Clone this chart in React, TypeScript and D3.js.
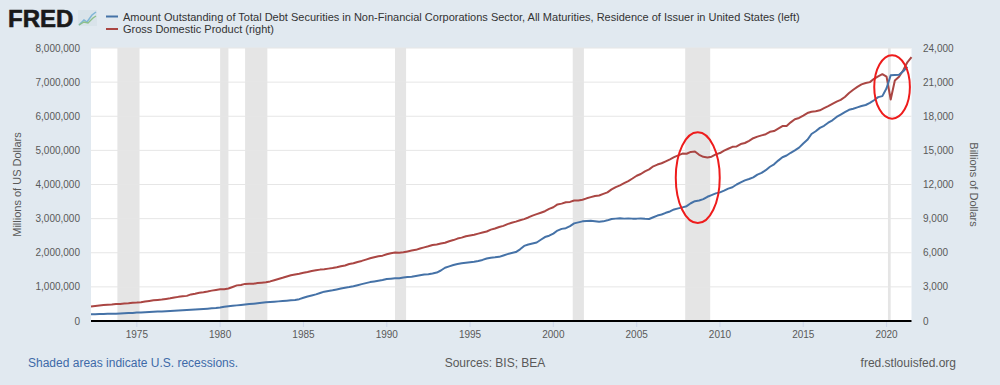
import React from "react";
import * as d3 from "d3";

// ---------- DATA ----------
const debtStart = "1972-04-01"; // quarterly, first observation
const gdpStart = "1972-04-01";

// Amount outstanding of total debt securities, non-financial corporations (millions of US$), quarterly 1972Q2–2021Q2
const debtValues = [
  197000, 200000, 203000,
  206000, 209000, 212000, 216000,
  220000, 226000, 232000, 238000,
  246000, 252000, 258000, 264000,
  270000, 276000, 282000, 288000,
  294000, 301000, 308000, 315000,
  322000, 330000, 338000, 346000,
  354000, 362000, 372000, 382000,
  395000, 415000, 432000, 445000,
  458000, 472000, 484000, 495000,
  507000, 520000, 535000, 548000,
  556000, 565000, 575000, 585000,
  595000, 605000, 615000, 640000,
  680000, 720000, 750000, 780000,
  820000, 860000, 880000, 900000,
  925000, 950000, 975000, 995000,
  1020000, 1050000, 1080000, 1110000,
  1140000, 1160000, 1180000, 1200000,
  1230000, 1240000, 1250000, 1255000,
  1275000, 1290000, 1300000, 1320000,
  1340000, 1360000, 1370000, 1390000,
  1420000, 1480000, 1560000, 1600000,
  1640000, 1670000, 1690000, 1705000,
  1720000, 1735000, 1760000, 1790000,
  1830000, 1855000, 1865000, 1880000,
  1920000, 1960000, 1995000, 2020000,
  2100000, 2200000, 2240000, 2270000,
  2300000, 2380000, 2460000, 2500000,
  2560000, 2650000, 2700000, 2720000,
  2780000, 2860000, 2890000, 2920000,
  2930000, 2935000, 2925000, 2910000,
  2920000, 2950000, 2990000, 3000000,
  3010000, 3000000, 3005000, 3000000,
  3000000, 3005000, 2995000, 2990000,
  3040000, 3090000, 3120000, 3170000,
  3210000, 3270000, 3300000, 3330000,
  3365000, 3450000, 3510000, 3530000,
  3570000, 3640000, 3690000, 3740000,
  3770000, 3820000, 3880000, 3920000,
  4000000, 4060000, 4120000, 4160000,
  4210000, 4290000, 4340000, 4420000,
  4520000, 4590000, 4700000, 4800000,
  4850000, 4930000, 5000000, 5080000,
  5200000, 5310000, 5480000, 5560000,
  5660000, 5720000, 5810000, 5880000,
  5980000, 6050000, 6120000, 6190000,
  6220000, 6260000, 6300000, 6330000,
  6390000, 6470000, 6560000, 6590000,
  6820000, 7200000, 7210000, 7215000,
  7320000, 7450000,
];

// Gross Domestic Product (billions of dollars), quarterly 1972Q2–2021Q3
const gdpValues = [
  1282, 1317, 1357,
  1404, 1434, 1452, 1491,
  1502, 1530, 1560, 1599,
  1616, 1652, 1710, 1762,
  1821, 1855, 1891, 1938,
  1992, 2061, 2122, 2168,
  2209, 2337, 2404, 2482,
  2531, 2596, 2671, 2730,
  2797, 2800, 2860, 2994,
  3132, 3168, 3262, 3284,
  3274, 3332, 3367, 3407,
  3481, 3584, 3693, 3796,
  3912, 4015, 4088, 4148,
  4237, 4302, 4395, 4453,
  4517, 4552, 4604, 4652,
  4723, 4807, 4885, 5009,
  5073, 5191, 5283, 5399,
  5512, 5601, 5688, 5743,
  5872, 5961, 6016, 6004,
  6036, 6117, 6192, 6254,
  6376, 6470, 6566, 6681,
  6730, 6809, 6883, 7013,
  7115, 7247, 7332, 7456,
  7523, 7581, 7683, 7772,
  7868, 8033, 8132, 8259,
  8363, 8518, 8633, 8736,
  8863, 8954, 9103, 9267,
  9393, 9518, 9653, 9862,
  10002, 10248, 10319, 10440,
  10472, 10598, 10598, 10660,
  10784, 10887, 10985, 11037,
  11175, 11312, 11567, 11770,
  11923, 12112, 12305, 12528,
  12767, 12923, 13161, 13333,
  13600, 13753, 13870, 14039,
  14216, 14402, 14564, 14716,
  14707, 14865, 14899, 14608,
  14430, 14382, 14448, 14651,
  14765, 14980, 15141, 15310,
  15351, 15558, 15648, 15842,
  16069, 16207, 16319, 16420,
  16629, 16700, 16911, 17134,
  17144, 17462, 17743, 17853,
  18063, 18280, 18401, 18435,
  18525, 18712, 18892, 19090,
  19280, 19438, 19693, 20038,
  20328, 20580, 20799, 20919,
  21001, 21290, 21506, 21694,
  21481, 19477, 21139, 21478,
  22038, 22741, 23202,
];

const recessions = [
  ["1973-11-01", "1975-03-01"],
  ["1980-01-01", "1980-07-01"],
  ["1981-07-01", "1982-11-01"],
  ["1990-07-01", "1991-03-01"],
  ["2001-03-01", "2001-11-01"],
  ["2007-12-01", "2009-06-01"],
  ["2020-02-01", "2020-04-01"],
];

const xTickYears = [1975, 1980, 1985, 1990, 1995, 2000, 2005, 2010, 2015, 2020];
const leftTicks = [0, 1000000, 2000000, 3000000, 4000000, 5000000, 6000000, 7000000, 8000000];
const rightTicks = [0, 3000, 6000, 9000, 12000, 15000, 18000, 21000, 24000];

// annotation ellipses (date centre, value centre on left axis)
const annotations = [
  { date: "2008-09-01", value: 4200000, rxYears: 1.32, ryValue: 1330000 },
  { date: "2020-05-01", value: 6860000, rxYears: 1.07, ryValue: 930000 },
];

const legendItems = [
  { label: "Amount Outstanding of Total Debt Securities in Non-Financial Corporations Sector, All Maturities, Residence of Issuer in United States (left)", color: "#4572A7" },
  { label: "Gross Domestic Product (right)", color: "#AA4643" },
];

// ---------- LAYOUT ----------
const W = 1000;
const H = 385;
const plot = { left: 91, right: 911.5, top: 48, bottom: 321 };
const FONT = "Arial, 'Liberation Sans', Helvetica, sans-serif";
const BG = "#E1E9F0";

const parse = d3.timeParse("%Y-%m-%d");

function quarterDates(start: string, n: number): Date[] {
  const s = parse(start) as Date;
  return d3.range(n).map((i) => d3.timeMonth.offset(s, i * 3));
}

export default function App() {
  const x = d3
    .scaleTime()
    .domain([parse("1972-04-01") as Date, parse("2021-07-01") as Date])
    .range([plot.left, plot.right]);
  const yL = d3.scaleLinear().domain([0, 8000000]).range([plot.bottom, plot.top]);
  const yR = d3.scaleLinear().domain([0, 24000]).range([plot.bottom, plot.top]);

  const debtDates = quarterDates(debtStart, debtValues.length);
  const gdpDates = quarterDates(gdpStart, gdpValues.length);

  const debtLine = d3
    .line<number>()
    .x((_, i) => x(debtDates[i]))
    .y((d) => yL(d));
  const gdpLine = d3
    .line<number>()
    .x((_, i) => x(gdpDates[i]))
    .y((d) => yR(d));

  const fmt = d3.format(",");

  return (
    <svg width={W} height={H} style={{ position: "absolute", left: 0, top: 0, display: "block" }}>
      <rect x={0} y={0} width={W} height={H} fill={BG} />

      {/* FRED logo */}
      <text x={8} y={27} fontFamily={FONT} fontWeight={900} fontSize={24} fill="#1a1a1a" stroke="#1a1a1a" strokeWidth={0.6}>
        FRED
      </text>
      <g transform="translate(78,10)">
        <rect x={0} y={0} width={19} height={16} fill="#d9e3ea" />
        <path d="M1 15 L6 10 L9 12 L14 5 L18 2" fill="none" stroke="#7fb5d6" strokeWidth={1.5} />
        <path d="M1 15 L6 12 L10 13 L15 8 L18 6" fill="none" stroke="#8cc08a" strokeWidth={1.4} />
      </g>

      {/* legend */}
      {legendItems.map((item, i) => (
        <g key={i}>
          <line x1={106} x2={118} y1={16.5 + i * 12.5} y2={16.5 + i * 12.5} stroke={item.color} strokeWidth={2} />
          <text x={123} y={20.5 + i * 12.5} fontFamily={FONT} fontSize={11} fill="#333">
            {item.label}
          </text>
        </g>
      ))}

      {/* plot background */}
      <rect x={plot.left} y={plot.top} width={plot.right - plot.left} height={plot.bottom - plot.top} fill="#ffffff" />

      {/* recessions */}
      {recessions.map(([s, e], i) => (
        <rect
          key={i}
          x={x(parse(s) as Date)}
          y={plot.top}
          width={x(parse(e) as Date) - x(parse(s) as Date)}
          height={plot.bottom - plot.top}
          fill="#e5e5e5"
        />
      ))}

      {/* gridlines */}
      {leftTicks.slice(1).map((t) => (
        <line key={t} x1={plot.left} x2={plot.right} y1={yL(t)} y2={yL(t)} stroke="#e6e6e6" strokeWidth={1} />
      ))}

      {/* left ticks */}
      {leftTicks.map((t) => (
        <text key={t} x={80} y={yL(t) + 3.5} textAnchor="end" fontFamily={FONT} fontSize={10} fill="#595959">
          {fmt(t)}
        </text>
      ))}
      {/* right ticks */}
      {rightTicks.map((t) => (
        <text key={t} x={923} y={yR(t) + 3.5} textAnchor="start" fontFamily={FONT} fontSize={10} fill="#595959">
          {fmt(t)}
        </text>
      ))}

      {/* axis titles */}
      <text
        transform={`translate(21,${(plot.top + plot.bottom) / 2}) rotate(-90)`}
        textAnchor="middle"
        fontFamily={FONT}
        fontSize={11}
        fill="#595959"
      >
        Millions of US Dollars
      </text>
      <text
        transform={`translate(970,${(plot.top + plot.bottom) / 2}) rotate(90)`}
        textAnchor="middle"
        fontFamily={FONT}
        fontSize={11}
        fill="#595959"
      >
        Billions of Dollars
      </text>

      {/* x ticks */}
      {xTickYears.map((yr) => {
        const d = new Date(yr, 0, 1);
        const px = x(d);
        return (
          <g key={yr}>
            <line x1={px} x2={px} y1={plot.bottom} y2={plot.bottom + 6} stroke="#ccd6eb" strokeWidth={1} />
            <text x={px} y={338} textAnchor="middle" fontFamily={FONT} fontSize={10} fill="#595959">
              {yr}
            </text>
          </g>
        );
      })}

      {/* series */}
      <path d={gdpLine(gdpValues) || ""} fill="none" stroke="#AA4643" strokeWidth={2} strokeLinejoin="round" />
      <path d={debtLine(debtValues) || ""} fill="none" stroke="#4572A7" strokeWidth={2} strokeLinejoin="round" />

      {/* x axis line */}
      <line x1={plot.left} x2={plot.right} y1={plot.bottom} y2={plot.bottom} stroke="#000" strokeWidth={2} />

      {/* annotation ellipses */}
      {annotations.map((a, i) => {
        const c = parse(a.date) as Date;
        const cx = x(c);
        const rx = x(d3.timeDay.offset(c, Math.round(a.rxYears * 365))) - cx;
        const cy = yL(a.value);
        const ry = yL(0) - yL(a.ryValue);
        return <ellipse key={i} cx={cx} cy={cy} rx={rx} ry={ry} fill="none" stroke="#ee1c1c" strokeWidth={2} />;
      })}

      {/* footer */}
      <text x={28} y={367} fontFamily={FONT} fontSize={12} fill="#3e6aa8">
        Shaded areas indicate U.S. recessions.
      </text>
      <text x={495} y={367} textAnchor="middle" fontFamily={FONT} fontSize={12} fill="#595959">
        Sources: BIS; BEA
      </text>
      <text x={956} y={367} textAnchor="end" fontFamily={FONT} fontSize={12} fill="#595959">
        fred.stlouisfed.org
      </text>
    </svg>
  );
}
